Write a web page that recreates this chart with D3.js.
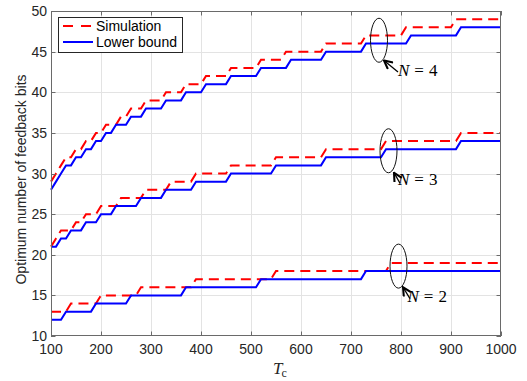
<!DOCTYPE html>
<html>
<head>
<meta charset="utf-8">
<script src="https://cdn.jsdelivr.net/npm/d3@7"></script>
<style>
body { margin: 0; background: #fff; }
text { font-family: "Liberation Sans", Arial, Helvetica, sans-serif; }
.serif { font-family: "Liberation Serif", "DejaVu Serif", serif; }
</style>
</head>
<body>
<svg id="chart" width="527" height="381"></svg>
<script>
// each pair = [Tc, bits] : Tc where the curve first reaches that number of bits
var n2Sim   = [[100,13],[140,14],[200,15],[280,16],[390,17],[550,18],[780,19]];
var n2Bound = [[100,12],[130,13],[190,14],[260,15],[370,16],[520,17],[730,18]];
var n3Sim   = [[100,21],[110,22],[120,23],[150,24],[170,25],[200,26],[240,27],[290,28],[340,29],
               [390,30],[460,31],[550,32],[650,33],[770,34],[920,35]];
var n3Bound = [[100,21],[120,22],[140,23],[170,24],[200,25],[230,26],[280,27],[330,28],[390,29],
               [460,30],[550,31],[650,32],[770,33],[920,34]];
var n4Sim   = [[100,29],[110,30],[120,31],[130,32],[150,33],[170,34],[190,35],[210,36],[240,37],
               [260,38],[290,39],[330,40],[370,41],[410,42],[460,43],[520,44],[570,45],[650,46],
               [730,47],[810,48],[910,49]];
var n4Bound = [[100,28],[110,29],[120,30],[130,31],[150,32],[170,33],[190,34],[210,35],[230,36],
               [260,37],[290,38],[330,39],[370,40],[410,41],[460,42],[520,43],[580,44],[650,45],
               [730,46],[820,47],[920,48]];

var xTicks = [100,200,300,400,500,600,700,800,900,1000];
var yTicks = [10,15,20,25,30,35,40,45,50];
var legendLabels = ["Simulation", "Lower bound"];
var nLabels = ["2", "3", "4"];

var dT = 10;      // Tc sampling step of the curves
var tEnd = 1000;

var svg = d3.select("#chart");
var pLeft = 51, pRight = 501, pTop = 11, pBottom = 336;

var x = d3.scaleLinear().domain([100, 1000]).range([pLeft, pRight]);
var y = d3.scaleLinear().domain([10, 50]).range([pBottom, pTop]);

// grid
svg.append("g").selectAll("line").data(xTicks.slice(1, -1)).enter().append("line")
    .attr("x1", d => Math.round(x(d)) + 0.5).attr("x2", d => Math.round(x(d)) + 0.5)
    .attr("y1", pTop).attr("y2", pBottom)
    .attr("stroke", "#e3e3e3").attr("stroke-width", 1);
svg.append("g").selectAll("line").data(yTicks.slice(1, -1)).enter().append("line")
    .attr("y1", d => Math.round(y(d)) + 0.5).attr("y2", d => Math.round(y(d)) + 0.5)
    .attr("x1", pLeft).attr("x2", pRight)
    .attr("stroke", "#e3e3e3").attr("stroke-width", 1);

// turn step list into polyline vertices
function stepPoints(steps) {
  var pts = [steps[0]];
  for (var i = 1; i < steps.length; i++) {
    pts.push([steps[i][0] - dT, steps[i - 1][1]]);
    pts.push(steps[i]);
  }
  pts.push([tEnd, steps[steps.length - 1][1]]);
  return pts;
}

var line = d3.line().x(d => x(d[0])).y(d => y(d[1]));

var series = [
  {data: n2Sim, sim: true}, {data: n3Sim, sim: true}, {data: n4Sim, sim: true},
  {data: n2Bound, sim: false}, {data: n3Bound, sim: false}, {data: n4Bound, sim: false}
];

svg.append("g").selectAll("path").data(series).enter().append("path")
    .attr("d", d => line(stepPoints(d.data)))
    .attr("fill", "none")
    .attr("stroke", d => d.sim ? "#ff0000" : "#0000ff")
    .attr("stroke-width", 2)
    .attr("stroke-dasharray", d => d.sim ? "10,6" : null);

// axes box + inward ticks on all four sides
var frame = svg.append("g").attr("stroke", "#6a6a6a").attr("stroke-width", 1);
frame.append("rect")
    .attr("x", pLeft + 0.5).attr("y", pTop + 0.5)
    .attr("width", pRight - pLeft - 1).attr("height", pBottom - pTop - 1)
    .attr("fill", "none");
xTicks.forEach(function(t) {
  var px = Math.round(x(t)) + 0.5;
  frame.append("line").attr("x1", px).attr("x2", px).attr("y1", pBottom).attr("y2", pBottom - 4.5);
  frame.append("line").attr("x1", px).attr("x2", px).attr("y1", pTop).attr("y2", pTop + 4.5);
});
yTicks.forEach(function(t) {
  var py = Math.round(y(t)) + 0.5;
  frame.append("line").attr("y1", py).attr("y2", py).attr("x1", pLeft).attr("x2", pLeft + 4.5);
  frame.append("line").attr("y1", py).attr("y2", py).attr("x1", pRight).attr("x2", pRight - 4.5);
});

// tick labels
svg.append("g").selectAll("text").data(xTicks).enter().append("text")
    .attr("x", d => x(d)).attr("y", 354)
    .attr("text-anchor", "middle").attr("font-size", 14).attr("fill", "#262626")
    .text(d => d);
svg.append("g").selectAll("text").data(yTicks).enter().append("text")
    .attr("x", 47).attr("y", d => y(d)).attr("dy", "0.36em")
    .attr("text-anchor", "end").attr("font-size", 14).attr("fill", "#262626")
    .text(d => d);

// axis labels
svg.append("text")
    .attr("transform", "translate(26," + ((pTop + pBottom) / 2 + 6) + ") rotate(-90)")
    .attr("text-anchor", "middle").attr("font-size", 14).attr("fill", "#262626")
    .text("Optimum number of feedback bits");

var xl = svg.append("text").attr("class", "serif")
    .attr("x", 273).attr("y", 374).attr("font-size", 17).attr("fill", "#262626");
xl.append("tspan").attr("font-style", "italic").text("T");
xl.append("tspan").attr("font-size", 12).attr("dy", 3).attr("dx", -1).text("c");

// legend
var lg = svg.append("g");
lg.append("rect").attr("x", 58.5).attr("y", 17.5).attr("width", 124).attr("height", 35)
    .attr("fill", "#fff").attr("stroke", "#262626").attr("stroke-width", 1);
legendLabels.forEach(function(lbl, i) {
  var ly = 26 + i * 16;
  lg.append("line").attr("x1", 63).attr("x2", 93).attr("y1", ly).attr("y2", ly)
      .attr("stroke", i === 0 ? "#ff0000" : "#0000ff").attr("stroke-width", 2)
      .attr("stroke-dasharray", i === 0 ? "10,8" : null);
  lg.append("text").attr("x", 96).attr("y", ly).attr("dy", "0.36em")
      .attr("font-size", 14).attr("fill", "#000").text(lbl);
});

// N annotations: ellipse, arrow, label
svg.append("defs").append("marker")
    .attr("id", "arr").attr("viewBox", "0 0 10 10").attr("refX", 9).attr("refY", 5)
    .attr("markerWidth", 8).attr("markerHeight", 8).attr("orient", "auto")
  .append("path").attr("d", "M1,1 L9,5 L1,9")
    .attr("fill", "none").attr("stroke", "#000").attr("stroke-width", 2);

var notes = [
  {n: nLabels[0], c: [795, 18.6], tail: [818, 14.6], head: [804, 16.0], txt: [813, 14.2]},
  {n: nLabels[1], c: [775, 32.8], tail: [798, 28.8], head: [786, 30.1], txt: [794, 28.6]},
  {n: nLabels[2], c: [756, 46.4], tail: [794, 42.5], head: [766, 43.9], txt: [794, 42.0]}
];
var ann = svg.append("g");
notes.forEach(function(a) {
  ann.append("ellipse")
      .attr("cx", x(a.c[0])).attr("cy", y(a.c[1]))
      .attr("rx", 8.5).attr("ry", 22)
      .attr("fill", "none").attr("stroke", "#111").attr("stroke-width", 1);
  ann.append("line")
      .attr("x1", x(a.tail[0])).attr("y1", y(a.tail[1]))
      .attr("x2", x(a.head[0])).attr("y2", y(a.head[1]))
      .attr("stroke", "#000").attr("stroke-width", 1.3).attr("marker-end", "url(#arr)");
  var t = ann.append("text").attr("class", "serif")
      .attr("x", x(a.txt[0])).attr("y", y(a.txt[1]))
      .attr("font-size", 17).attr("fill", "#000");
  t.append("tspan").attr("font-style", "italic").text("N");
  t.append("tspan").attr("dx", 5).text("=");
  t.append("tspan").attr("dx", 5).text(a.n);
});
</script>
</body>
</html>
